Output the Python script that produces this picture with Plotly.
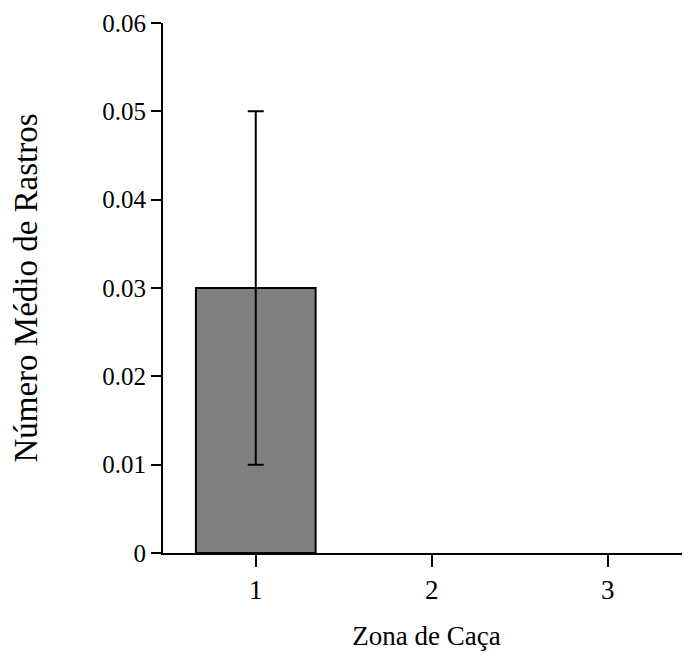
import plotly.graph_objects as go

categories = [1, 2, 3]
means = [0.03, 0, 0]
errors = [0.02, None, None]
tick_labels = ["1", "2", "3"]
y_ticks = [0, 0.01, 0.02, 0.03, 0.04, 0.05, 0.06]
y_tick_labels = ["0", "0.01", "0.02", "0.03", "0.04", "0.05", "0.06"]

fig = go.Figure()
fig.add_trace(go.Bar(
    x=categories[:1], y=means[:1],
    width=0.68,
    marker=dict(color="#808080", line=dict(color="black", width=2)),
    error_y=dict(type="data", array=errors[:1], visible=True,
                 color="black", thickness=2, width=8),
    showlegend=False,
))

font_family = "Liberation Serif, Times New Roman, serif"
fig.update_layout(
    width=690, height=659,
    margin=dict(l=155, r=8, t=15, b=114),
    plot_bgcolor="white", paper_bgcolor="white",
    font=dict(family=font_family, size=24, color="black"),
    xaxis=dict(
        range=[0.473, 3.467], tickvals=categories, ticktext=tick_labels,
        showline=True, linecolor="black", linewidth=2,
        ticks="outside", ticklen=12, tickwidth=2, tickcolor="black",
        showgrid=False, zeroline=False, ticklabeloverflow="allow",
        automargin=False,
        title=dict(text="Zona de Caça", font=dict(size=27), standoff=22),
        tickfont=dict(size=27),
    ),
    yaxis=dict(
        range=[0, 0.06], tickvals=y_ticks, ticktext=y_tick_labels,
        showline=True, linecolor="black", linewidth=2,
        ticks="outside", ticklen=10, tickwidth=2, tickcolor="black",
        showgrid=False, zeroline=False, ticklabeloverflow="allow",
        automargin=False,
        title=dict(text="Número Médio de Rastros", font=dict(size=33), standoff=56),
        tickfont=dict(size=25),
    ),
)
fig.write_html("out.html")
